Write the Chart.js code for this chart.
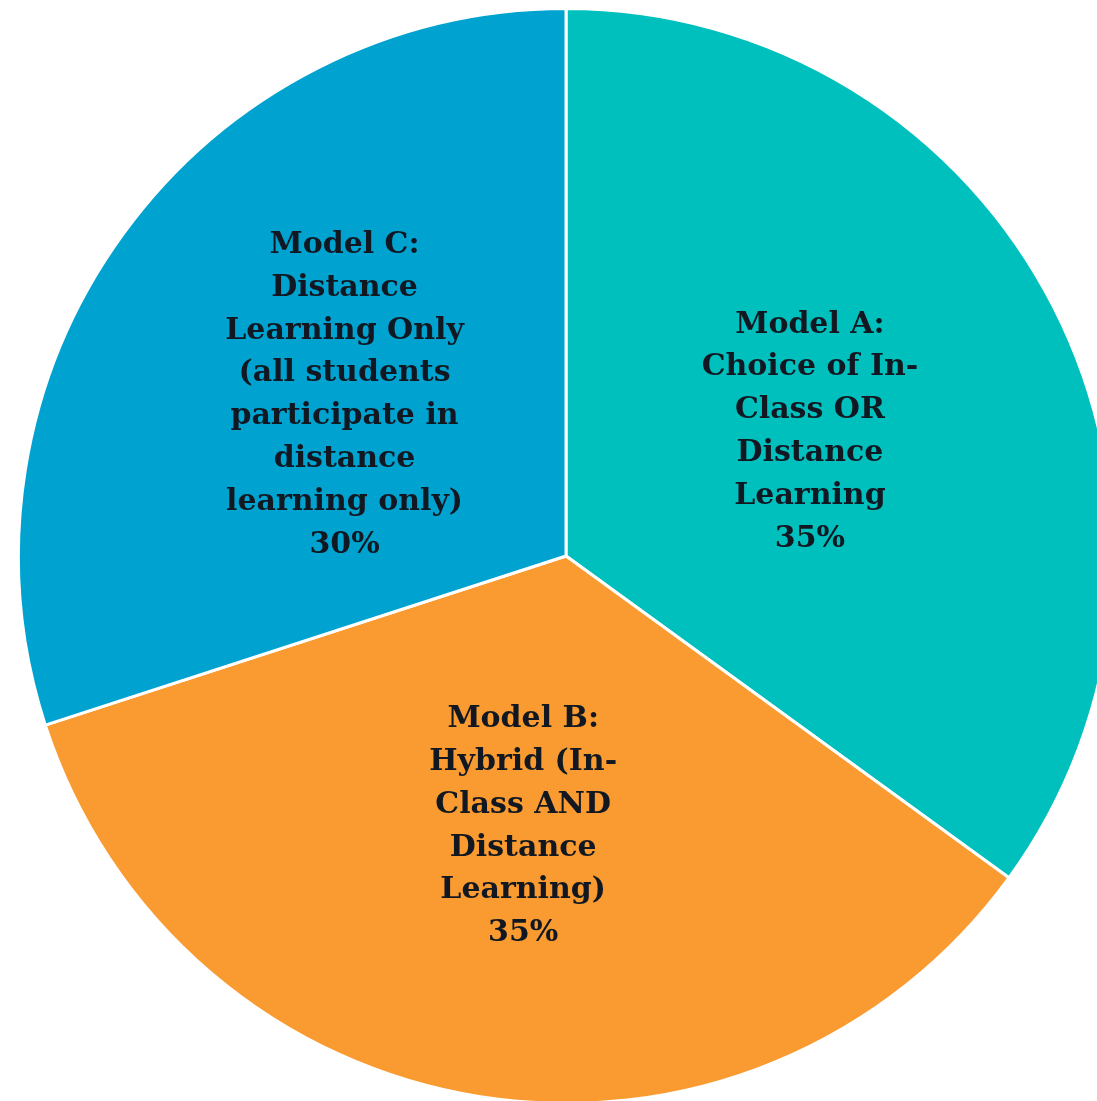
<!DOCTYPE html>
<html lang="en">
<head>
<meta charset="utf-8" />
<title>Learning models</title>
<style>
	html, body { margin: 0; padding: 0; background: #fff; overflow: hidden; width: 1097px; height: 1101px; }
	#wrap { position: absolute; left: 17px; top: 7px; width: 1098px; height: 1098px; }
</style>
<script src="https://cdn.jsdelivr.net/npm/chart.js@4/dist/chart.umd.min.js"></script>
</head>
<body>
<div id="wrap"><canvas id="pie"></canvas></div>
<script>
var categories = ["Model A", "Model B", "Model C"];
var shares = [35, 35, 30];
var labelLines = [
	["Model A:", "Choice of In-", "Class OR", "Distance", "Learning"],
	["Model B:", "Hybrid (In-", "Class AND", "Distance", "Learning)"],
	["Model C:", "Distance", "Learning Only", "(all students", "participate in", "distance", "learning only)"]
];
var colors = ["#00C0BE", "#F99B30", "#00A3D0"];

// writes the multi-line label in the middle of each slice
var sliceLabels = {
	id: "sliceLabels",
	afterDatasetsDraw: function(chart){
		var ctx = chart.ctx;
		var meta = chart.getDatasetMeta(0);
		ctx.save();
		ctx.font = "bold 30px 'DejaVu Serif', serif";
		ctx.fillStyle = "#121822";
		ctx.textAlign = "center";
		ctx.textBaseline = "middle";
		var lh = 42.8;
		meta.data.forEach(function(arc, i){
			var p = arc.getCenterPoint();
			var lines = labelLines[i].concat([shares[i] + "%"]);
			var y0 = p.y - (lines.length - 1) * lh / 2;
			lines.forEach(function(t, k){
				ctx.fillText(t, p.x, y0 + k * lh);
			});
		});
		ctx.restore();
	}
};

new Chart(document.getElementById("pie"), {
	type: "pie",
	data: {
		labels: categories,
		datasets: [{
			data: shares,
			backgroundColor: colors,
			borderColor: "#ffffff",
			borderWidth: 3
		}]
	},
	options: {
		responsive: true,
		maintainAspectRatio: false,
		animation: false,
		layout: { padding: 0 },
		plugins: { legend: { display: false }, tooltip: { enabled: false } }
	},
	plugins: [sliceLabels]
});
</script>
</body>
</html>
